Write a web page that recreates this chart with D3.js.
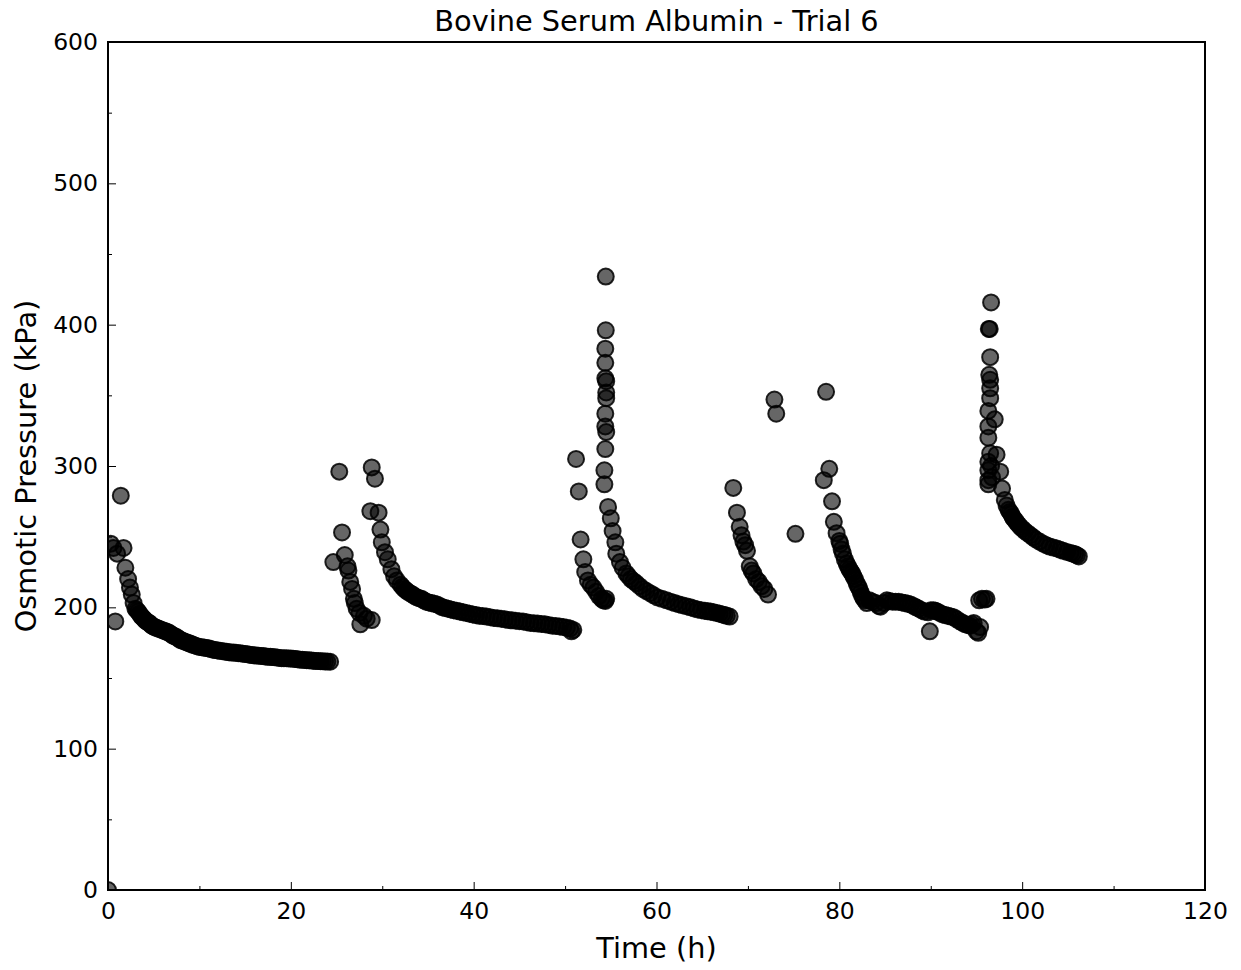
<!DOCTYPE html>
<html>
<head>
<meta charset="utf-8">
<script src="https://cdn.jsdelivr.net/npm/d3@7"></script>
<style>
  html, body { margin: 0; padding: 0; background: #fff; }
  svg { display: block; font-family: "DejaVu Sans", sans-serif; }
</style>
</head>
<body>
<svg id="chart" width="1241" height="970"></svg>
<script>
// ---- Data (time in h, osmotic pressure in kPa) ----
const chartTitle = "Bovine Serum Albumin - Trial 6";
const xLabel = "Time (h)";
const yLabel = "Osmotic Pressure (kPa)";
const xTicks = [0, 20, 40, 60, 80, 100, 120];
const yTicks = [0, 100, 200, 300, 400, 500, 600];

const run1 = [
  [0,0],[0.3,245],[0.6,242],[0.8,190],[1.0,238],[1.4,279],[1.7,242],[1.9,228],[2.2,220],
  [2.4,214],[2.6,209],[2.8,203],[3.0,199],[3.15,198],[3.3,197],[3.45,195.5],[3.6,194],[3.75,193],
  [3.9,192],[4.05,191],[4.2,190],[4.35,189.5],[4.5,189],[4.65,188],[4.8,187],[4.95,186.5],
  [5.1,186],[5.3,185.5],[5.5,185],[5.7,184.5],[5.9,184],[6.1,183.5],[6.3,183],[6.5,182.5],
  [6.7,182],[6.9,181],[7.1,180],[7.3,179.5],[7.5,179],[7.7,178],[7.9,177],[8.1,176.5],[8.3,176],
  [8.5,175.5],[8.7,175],[8.9,174.5],[9.1,174],[9.3,173.5],[9.5,173],[9.75,172.5],[10,172],
  [10.25,171.8],[10.5,171.5],[10.75,171.2],[11,171],[11.25,170.5],[11.5,170],[11.75,169.8],
  [12,169.5],[12.25,169.2],[12.5,169],[12.75,168.8],[13,168.5],[13.25,168.2],[13.5,168],
  [13.75,168],[14,167.8],[14.25,167.6],[14.5,167.5],[14.75,167.2],[15,167],[15.25,166.8],
  [15.5,166.5],[15.75,166.2],[16,166],[16.25,166],[16.5,165.8],[16.75,165.6],[17,165.5],
  [17.25,165.2],[17.5,165],[17.75,165],[18,164.8],[18.25,164.6],[18.5,164.5],[18.75,164.2],
  [19,164],[19.25,164],[19.5,164],[19.75,163.8],[20,163.8],[20.25,163.6],[20.5,163.5],
  [20.75,163.2],[21,163],[21.25,163],[21.5,162.8],[21.75,162.6],[22,162.5],[22.25,162.3],
  [22.5,162.2],[22.75,162],[23,162],[23.25,161.9],[23.5,161.8],[23.75,161.7],[24,161.6],[24.3,161.5]
];
const run2 = [
  [24.65,232],[25.3,296],[25.6,253],[25.9,237],[26.2,229],[26.3,226],[26.5,218],[26.7,213],
  [26.9,206],[27.0,203],[27.2,199],[27.5,196],[27.6,188],[28.0,194],[28.3,192],[28.85,191]
];
const run3 = [
  [28.7,268],[28.85,299],[29.2,291],[29.6,267],[29.8,255],[29.95,246],[30.3,239],[30.6,234],
  [31.0,227],[31.3,222],[31.6,219],[32.0,216],[32.2,214.5],[32.4,213],[32.6,212],[32.8,211],
  [33.05,210],[33.3,209],[33.55,208],[33.8,207],[34.05,206.5],[34.3,206],[34.55,205],[34.8,204],
  [35.1,203.5],[35.4,203],[35.7,202.5],[36,202],[36.3,201],[36.6,200],[36.9,199.5],[37.2,199],
  [37.5,198.5],[37.8,198],[38.15,197.5],[38.5,197],[38.85,196.5],[39.2,196],[39.55,195.5],
  [39.9,195],[40.25,194.5],[40.6,194],[41,193.8],[41.4,193.5],[41.8,193],[42.2,192.5],
  [42.6,192.2],[43,192],[43.4,191.5],[43.8,191],[44.2,190.8],[44.6,190.5],[45,190.2],[45.4,190],
  [45.8,189.5],[46.2,189],[46.6,188.8],[47,188.5],[47.4,188.2],[47.8,188],[48.2,187.5],[48.6,187],
  [49,186.8],[49.4,186.5],[49.8,186],[50.2,185.5],[50.55,185],[50.9,184],[50.7,183]
];
const run4 = [
  [51.2,305],[51.5,282],[51.7,248],[52.0,234],[52.2,225],[52.5,219],[52.8,216],[53.1,214],
  [53.4,211],[53.7,208],[54.0,206],[54.2,205],[54.4,204.5],[54.5,206],
  [54.45,434],[54.45,396],[54.4,383],[54.4,373],[54.4,362],[54.5,360],[54.5,352],[54.5,348],
  [54.4,337],[54.4,328],[54.5,324],[54.4,312],[54.3,297],[54.3,287],[54.7,271],[55.0,263],
  [55.2,254],[55.5,246],[55.6,238],[56.0,232],[56.3,228],[56.7,224],[56.95,222],[57.2,220],
  [57.5,218.5],[57.8,217],[58.15,215],[58.5,213],[58.9,211.5],[59.3,210],[59.7,208.5],[60.1,207],
  [60.6,206],[61.1,205],[61.55,204],[62,203],[62.4,202.2],[62.8,201.5],[63.25,200.8],[63.7,200],
  [64.1,199.2],[64.5,198.5],[64.9,198],[65.3,197.5],[65.6,197.2],[65.9,197],[66.25,196.5],
  [66.6,196],[66.9,195.5],[67.2,195],[67.45,194.5],[67.7,194],[68.0,193.5]
];
const run5 = [
  [68.4,284.5],[68.8,267],[69.1,257],[69.3,251],[69.5,246.5],[69.7,244],[69.9,240],[70.2,229],
  [70.4,226],[70.6,224],[70.9,220],[71.2,218],[71.5,215],[71.8,213],[72.2,209],
  [72.9,347],[73.1,337],[75.2,252]
];
const run6 = [
  [78.3,290],[78.55,352.5],[78.9,298],[79.2,275],[79.4,260.5],[79.7,252.5],[80.0,247],[80.1,245],
  [80.25,241],[80.4,238],[80.6,234],[80.8,231],[80.95,229],[81.1,227],[81.25,225.5],[81.4,224],
  [81.55,222],[81.7,220],[81.9,217],[82.05,215],[82.2,213],[82.35,210.5],[82.5,208],[82.65,206.5],
  [82.8,205],[83,203],[83.3,205],[83.6,204],[84,203],[84.3,201],[84.5,200.5],[84.9,203],[85.2,205],
  [85.5,204.5],[85.8,204],[86.15,204],[86.5,204],[86.85,203.5],[87.2,203],[87.5,202.5],[87.8,202],
  [88.1,201],[88.4,200],[88.7,199],[89,198],[89.3,197],[89.7,196.5],[89.9,183],[90.0,198],[90.3,198],
  [90.5,197.5],[90.7,197],[91,196],[91.3,195],[91.6,194.5],[91.9,194],[92.2,193.5],[92.5,193],
  [92.85,191.5],[93.2,190],[93.5,189],[93.8,188],[94.05,187.5],[94.3,187],[94.5,188],[94.7,189],
  [95.0,183],[95.2,182],[95.4,186],[95.3,205],[95.6,206],[95.9,205.5],[96.1,206]
];
const run7 = [
  [96.6,415.7],[96.35,397],[96.45,397],[96.5,377],[96.4,364.5],[96.5,361],[96.5,355],[96.5,348],
  [96.3,339],[97,333],[96.3,328],[96.3,320],[96.5,309],[97.2,308],[96.3,303],[96.3,297],
  [97.6,296],[96.3,290],[96.3,287],[96.7,292],[96.6,300],[97.8,284],[98.1,276],[98.3,272],
  [98.5,269],[98.65,267.5],[98.8,266],[98.95,264],[99.05,263],[99.25,261.5],[99.4,260],
  [99.6,258.5],[99.8,257],[100.05,255.5],[100.3,254],[100.6,252.5],[100.9,251],[101.2,249.5],
  [101.5,248],[101.9,246.5],[102.3,245],[102.65,244],[103,243],[103.4,242.3],[103.8,241.7],
  [104.15,240.8],[104.5,240],[104.9,239.2],[105.3,238.5],[105.55,238],[105.8,237.5],[106,236.8],[106.2,236]
];
const runs = [run1, run2, run3, run4, run5, run6, run7];

// ---- Layout ----
const svg = d3.select("#chart");
const margin = { left: 108, right: 36, top: 42, bottom: 80 };
const W = 1241, H = 970;
const x = d3.scaleLinear().domain([0, 120]).range([margin.left, W - margin.right]);
const y = d3.scaleLinear().domain([0, 600]).range([H - margin.bottom, margin.top]);

svg.append("defs").append("clipPath").attr("id", "plotclip")
  .append("rect")
  .attr("x", x(0)).attr("y", y(600))
  .attr("width", x(120) - x(0)).attr("height", y(0) - y(600));

// Points
const pts = runs.flat();
svg.append("g").attr("clip-path", "url(#plotclip)")
  .selectAll("circle").data(pts).join("circle")
  .attr("cx", d => x(d[0]))
  .attr("cy", d => y(d[1]))
  .attr("r", 8)
  .attr("fill", "#000")
  .attr("fill-opacity", 0.6)
  .attr("stroke", "#000")
  .attr("stroke-opacity", 0.85)
  .attr("stroke-width", 2);

// Axes (ticks inward)
const xAxis = d3.axisBottom(x).tickValues(xTicks).tickSize(-8).tickPadding(12).tickFormat(d3.format("d"));
const xMinor = d3.axisBottom(x).tickValues(d3.range(10, 120, 20)).tickSize(-4).tickFormat("");
const yAxis = d3.axisLeft(y).tickValues(yTicks).tickSize(-8).tickPadding(10).tickFormat(d3.format("d"));
const yMinor = d3.axisLeft(y).tickValues(d3.range(50, 600, 100)).tickSize(-4).tickFormat("");

function styleAxis(g) {
  g.select(".domain").remove();
  g.selectAll(".tick line").attr("stroke", "#000").attr("stroke-width", 1);
  g.selectAll(".tick text").attr("fill", "#000").attr("font-size", 23.5)
    .attr("font-family", "DejaVu Sans, sans-serif");
}
svg.append("g").attr("transform", `translate(0,${y(0)})`).call(xAxis).call(styleAxis);
svg.append("g").attr("transform", `translate(0,${y(0)})`).call(xMinor).call(styleAxis);
svg.append("g").attr("transform", `translate(${x(0)},0)`).call(yAxis).call(styleAxis);
svg.append("g").attr("transform", `translate(${x(0)},0)`).call(yMinor).call(styleAxis);

// Frame
svg.append("rect")
  .attr("x", x(0)).attr("y", y(600))
  .attr("width", x(120) - x(0)).attr("height", y(0) - y(600))
  .attr("fill", "none").attr("stroke", "#000").attr("stroke-width", 2);

// Title and labels
svg.append("text").attr("x", (x(0) + x(120)) / 2).attr("y", 31)
  .attr("text-anchor", "middle").attr("font-size", 28.8).attr("fill", "#000")
  .text(chartTitle);
svg.append("text").attr("x", (x(0) + x(120)) / 2).attr("y", 958)
  .attr("text-anchor", "middle").attr("font-size", 28.8).attr("fill", "#000")
  .text(xLabel);
svg.append("text")
  .attr("transform", `translate(36,${(y(0) + y(600)) / 2}) rotate(-90)`)
  .attr("text-anchor", "middle").attr("font-size", 28.8).attr("fill", "#000")
  .text(yLabel);
</script>
</body>
</html>
